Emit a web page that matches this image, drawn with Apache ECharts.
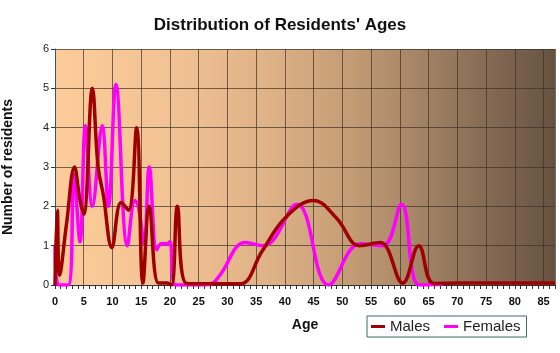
<!DOCTYPE html>
<html>
<head>
<meta charset="utf-8">
<script src="https://cdn.jsdelivr.net/npm/echarts@6/dist/echarts.min.js"></script>
<style>
  html, body { margin: 0; padding: 0; background: #fff; }
  #chart { width: 560px; height: 353px; }
</style>
</head>
<body>
<div id="chart"></div>
<script>
// age, number of residents
const males = [
  [0, 0], [0.4, 1.9], [0.8, 0.25], [2, 1.55], [3.4, 3.0], [4.3, 2.2], [5, 1.8],
  [6.5, 5.0], [7.5, 3.0], [8.4, 2.3], [9.9, 0.95], [11.5, 2.1], [12.8, 1.9],
  [14.2, 4.0], [15.3, 0.05], [16.4, 2.0], [18, 0.05], [19.5, 0.05], [20.3, 0],
  [21.3, 2.0], [22.9, 0.04], [27, 0.03], [32.2, 0.03], [36, 0.85], [40, 1.7],
  [45, 2.15], [49, 1.7], [53, 1.0], [56.6, 1.08], [60.5, 0.05], [63.3, 1.0],
  [65.9, 0.04], [70, 0.05], [87, 0.05]
];
const females = [
  [0, 1.0], [0.6, 0], [2.3, 0], [3.3, 2.8], [4.35, 1.1], [5.3, 4.05], [6.5, 2.0],
  [8.2, 4.05], [9.3, 2.0], [10.6, 5.1], [12.6, 1.0], [13.9, 2.15], [14.5, 2.0],
  [15.5, 1.05], [16.4, 3.0], [17.7, 0.9], [18.5, 1.05], [19.5, 1.05], [20, 1.1],
  [20.9, 0], [22.5, 0], [26, 0], [27.5, 0.05], [28.7, 0.25], [33.1, 1.08],
  [36.3, 1.0], [42.1, 2.05], [47.6, 0], [53.1, 1.05], [57.1, 1.0], [60.3, 2.05],
  [63.4, 0], [67.5, 0.02]
];

const chart = echarts.init(document.getElementById('chart'));

const option = {
  backgroundColor: '#fff',
  animation: false,
  title: {
    text: "Distribution of Residents' Ages",
    left: 'center',
    top: 12,
    textStyle: { fontFamily: 'Liberation Sans', fontSize: 17, fontWeight: 'bold', color: '#111' }
  },
  legend: {
    data: ['Males', 'Females'],
    left: 367,
    top: 316,
    width: 155,
    padding: [3, 6, 3, 4],
    borderColor: '#3a6a6a',
    borderWidth: 1,
    itemWidth: 14,
    itemHeight: 3,
    itemGap: 14,
    icon: 'rect',
    textStyle: { fontFamily: 'Liberation Sans', fontSize: 15, color: '#222' }
  },
  grid: {
    left: 55, right: 5, top: 49, bottom: 68,
    outerBoundsMode: 'none',
    show: true,
    borderWidth: 0,
    backgroundColor: new echarts.graphic.LinearGradient(0, 0, 1, 0, [
      { offset: 0, color: '#FECC9A' },
      { offset: 0.25, color: '#F0C192' },
      { offset: 0.45, color: '#DCAF85' },
      { offset: 0.6, color: '#C29A74' },
      { offset: 0.75, color: '#A08063' },
      { offset: 0.9, color: '#7D6450' },
      { offset: 1, color: '#665241' }
    ])
  },
  xAxis: {
    type: 'value',
    min: 0,
    max: 87,
    interval: 5,
    name: 'Age',
    nameLocation: 'middle',
    nameGap: 33,
    nameTextStyle: { fontFamily: 'Liberation Sans', fontSize: 14, fontWeight: 'bold', color: '#111' },
    axisLine: { lineStyle: { color: '#333', width: 1 } },
    axisTick: { length: 4, lineStyle: { color: '#333' } },
    minorTick: { show: true, splitNumber: 5, length: 4, lineStyle: { color: '#333' } },
    axisLabel: {
      showMaxLabel: false,
      margin: 11,
      fontFamily: 'Liberation Sans', fontSize: 11, fontWeight: 'bold', color: '#111'
    },
    splitLine: { show: true, lineStyle: { color: 'rgba(60,50,40,0.7)', width: 1 } }
  },
  yAxis: {
    type: 'value',
    min: 0,
    max: 6,
    interval: 1,
    name: 'Number of residents',
    nameLocation: 'middle',
    nameGap: 40,
    nameTextStyle: { fontFamily: 'Liberation Sans', fontSize: 14, fontWeight: 'bold', color: '#111' },
    axisLine: { show: true, lineStyle: { color: '#2a5a5a', width: 1 } },
    axisTick: { show: true, length: 4, lineStyle: { color: '#333' } },
    axisLabel: { margin: 6, fontFamily: 'Liberation Sans', fontSize: 11, color: '#222' },
    splitLine: { show: true, lineStyle: { color: 'rgba(60,50,40,0.7)', width: 1 } }
  },
  series: [
    {
      name: 'Females',
      type: 'line',
      data: females,
      smooth: 0.4,
      showSymbol: false,
      color: '#FF00FF',
      lineStyle: { width: 3.5, color: '#FF00FF' },
      z: 2
    },
    {
      name: 'Males',
      type: 'line',
      data: males,
      smooth: 0.4,
      showSymbol: false,
      color: '#A00000',
      lineStyle: { width: 3.5, color: '#A00000' },
      z: 3
    }
  ]
};

chart.setOption(option);
</script>
</body>
</html>
